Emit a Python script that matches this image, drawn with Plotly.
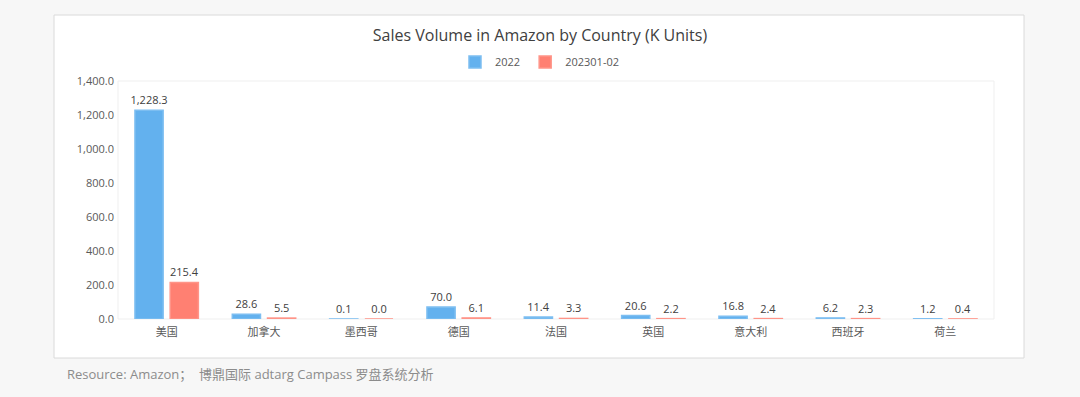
import plotly.graph_objects as go

countries = ["美国", "加拿大", "墨西哥", "德国", "法国", "英国", "意大利", "西班牙", "荷兰"]
sales_2022 = [1228.3, 28.6, 0.1, 70.0, 11.4, 20.6, 16.8, 6.2, 1.2]
sales_2023 = [215.4, 5.5, 0.0, 6.1, 3.3, 2.2, 2.4, 2.3, 0.4]
series_names = ["2022", "202301-02"]
y_ticks = [0, 200, 400, 600, 800, 1000, 1200, 1400]

FONT = "Open Sans, Noto Sans CJK SC, sans-serif"
W, H = 1080, 397
L, R, T, B = 118, 86, 81, 78
pw, ph = W - L - R, H - T - B

def px_x(x):
    return (x - L) / pw

def px_y(y):
    return (H - B - y) / ph

fig = go.Figure()
for name, vals, col, edge in [
    (series_names[0], sales_2022, "#63B1EE", "#7DBEF1"),
    (series_names[1], sales_2023, "#FF8072", "#FF9488"),
]:
    fig.add_trace(go.Bar(
        name=name, x=countries, y=vals,
        marker=dict(color=col, line=dict(color=edge, width=1.5)),
        text=[f"{v:,.1f}" for v in vals],
        textposition="outside",
        textfont=dict(family=FONT, size=11, color="#404040"),
        constraintext="none",
        cliponaxis=False,
    ))

fig.update_layout(
    width=W, height=H,
    margin=dict(l=L, r=R, t=T, b=B, autoexpand=False),
    paper_bgcolor="#F7F7F7",
    plot_bgcolor="white",
    barmode="group",
    bargap=0.276,
    bargroupgap=0.2,
    font=dict(family=FONT, size=11, color="#595959"),
    title=dict(text="Sales Volume in Amazon by Country (K Units)",
               x=0.5, xref="container", xanchor="center",
               y=1 - 35 / H, yref="container", yanchor="middle",
               font=dict(family=FONT, size=16, color="#404040")),
    legend=dict(orientation="h", x=0.5, xref="container", xanchor="center",
                y=1 - 62 / H, yref="container", yanchor="middle",
                font=dict(family=FONT, size=11, color="#595959"),
                itemwidth=30, traceorder="normal", bgcolor="rgba(0,0,0,0)",
                tracegroupgap=0),
    showlegend=True,
    xaxis=dict(showgrid=False, showline=False, ticks="", ticklabelstandoff=5,
               tickfont=dict(family=FONT, size=11, color="#595959")),
    yaxis=dict(range=[0, 1400], tickvals=y_ticks, tickformat=",.1f",
               showgrid=False, zeroline=False, showline=False, ticks="",
               ticklabelstandoff=3,
               tickfont=dict(family=FONT, size=11, color="#595959")),
    shapes=[
        dict(type="rect", xref="paper", yref="paper", layer="below",
             x0=px_x(54), x1=px_x(1024), y0=px_y(358), y1=px_y(15),
             fillcolor="white", line=dict(color="#DADADA", width=1)),
        dict(type="rect", xref="paper", yref="paper", layer="below",
             x0=0, x1=1, y0=0, y1=1,
             fillcolor="rgba(0,0,0,0)", line=dict(color="#EFEFEF", width=1)),
    ],
    annotations=[
        dict(text="Resource: Amazon；  博鼎国际 adtarg Campass 罗盘系统分析",
             xref="paper", yref="paper", x=px_x(65), y=px_y(374),
             xanchor="left", yanchor="middle", showarrow=False,
             font=dict(family=FONT, size=13, color="#8C8C8C")),
    ],
)

fig.write_html("out.html",
               config={"displayModeBar": False},
               post_script="document.body.style.margin='0';document.body.style.background='#F7F7F7';")
